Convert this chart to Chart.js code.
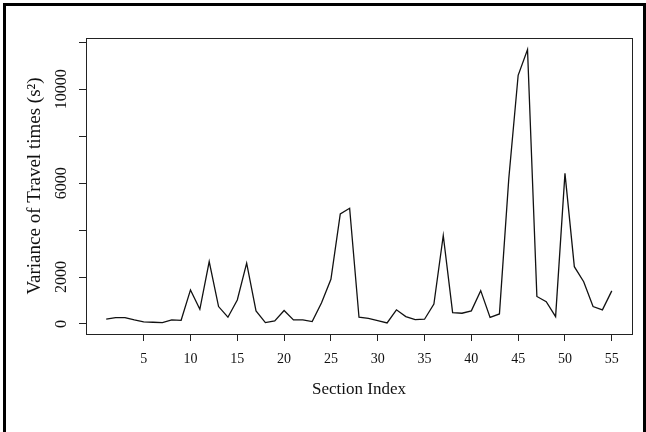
<!DOCTYPE html>
<html>
<head>
<meta charset="utf-8">
<script src="https://cdn.jsdelivr.net/npm/chart.js@4.4.1/dist/chart.umd.min.js"></script>
<style>
  html, body { margin: 0; padding: 0; background: #fff; overflow: hidden; }
  #wrap { position: relative; width: 646px; height: 432px; overflow: hidden; }
  #frame {
    position: absolute; left: 3px; top: 3px; width: 637px; height: 600px;
    border: 3px solid #000; pointer-events: none;
  }
</style>
</head>
<body>
<div id="wrap">
  <canvas id="chart" width="646" height="432"></canvas>
  <div id="frame"></div>
</div>
<script>
// section index 1..55 and variance of travel times
const sections = [];
for (let i = 1; i <= 55; i++) sections.push(i);

const variance = [
  200, 270, 270, 170, 85, 70, 55, 170, 155, 1450,
  625, 2660, 740, 285, 1020, 2590, 555, 55, 128, 570,
  170, 170, 100, 900, 1900, 4690, 4930, 285, 240, 140,
  40, 600, 310, 180, 200, 850, 3770, 480, 455, 555,
  1420, 280, 425, 6200, 10600, 11700, 1170, 950, 310, 6420,
  2440, 1800, 740, 600, 1410
];

const xTicks = [5, 10, 15, 20, 25, 30, 35, 40, 45, 50, 55];
const yTicks = [0, 2000, 4000, 6000, 8000, 10000, 12000];
const yLabelled = [0, 2000, 6000, 10000];  // R drops the ones that would overlap

const serif = '"Liberation Serif", "Times New Roman", serif';

// box round the plot area, like R's box()
const plotBox = {
  id: 'plotBox',
  afterDraw(chart) {
    const a = chart.chartArea;
    const ctx = chart.ctx;
    ctx.save();
    ctx.strokeStyle = '#222';
    ctx.lineWidth = 1;
    ctx.strokeRect(Math.round(a.left) + 0.5, Math.round(a.top) + 0.5,
      Math.round(a.right - a.left), Math.round(a.bottom - a.top));
    ctx.restore();
  }
};

const ctx = document.getElementById('chart').getContext('2d');
new Chart(ctx, {
  type: 'line',
  data: {
    datasets: [{
      data: sections.map((s, i) => ({ x: s, y: variance[i] })),
      borderColor: '#111',
      borderWidth: 1.3,
      pointRadius: 0,
      tension: 0,
      fill: false
    }]
  },
  options: {
    responsive: false,
    animation: false,
    devicePixelRatio: 1,
    layout: { padding: { top: 38, right: 14, left: 0, bottom: 0 } },
    plugins: { legend: { display: false }, tooltip: { enabled: false } },
    scales: {
      x: {
        type: 'linear',
        min: -1.16,
        max: 57.16,
        afterBuildTicks: s => { s.ticks = xTicks.map(v => ({ value: v })); },
        afterFit: s => { s.height = 98; },
        border: { display: false },
        grid: { drawOnChartArea: false, drawTicks: true, tickLength: 7, color: '#222' },
        ticks: {
          color: '#111', padding: 10, maxRotation: 0, autoSkip: false,
          font: { family: serif, size: 14 }
        },
        title: {
          display: true, text: 'Section Index', color: '#111',
          font: { family: serif, size: 17 },
          padding: { top: 4, bottom: 32 }
        }
      },
      y: {
        type: 'linear',
        min: -430,
        max: 12190,
        afterBuildTicks: s => { s.ticks = yTicks.map(v => ({ value: v })); },
        afterFit: s => { s.width = 86; },
        border: { display: false },
        grid: { drawOnChartArea: false, drawTicks: true, tickLength: 7, color: '#222' },
        ticks: {
          color: '#111', padding: -3, minRotation: 90, maxRotation: 90,
          crossAlign: 'center', autoSkip: false,
          font: { family: serif, size: 16 },
          callback: v => yLabelled.includes(v) ? String(v) : ''
        },
        title: {
          display: true, text: 'Variance of Travel times (s\u00B2)', color: '#111',
          font: { family: serif, size: 19 },
          padding: { top: 24, bottom: 0 }
        }
      }
    }
  },
  plugins: [plotBox]
});
</script>
</body>
</html>
